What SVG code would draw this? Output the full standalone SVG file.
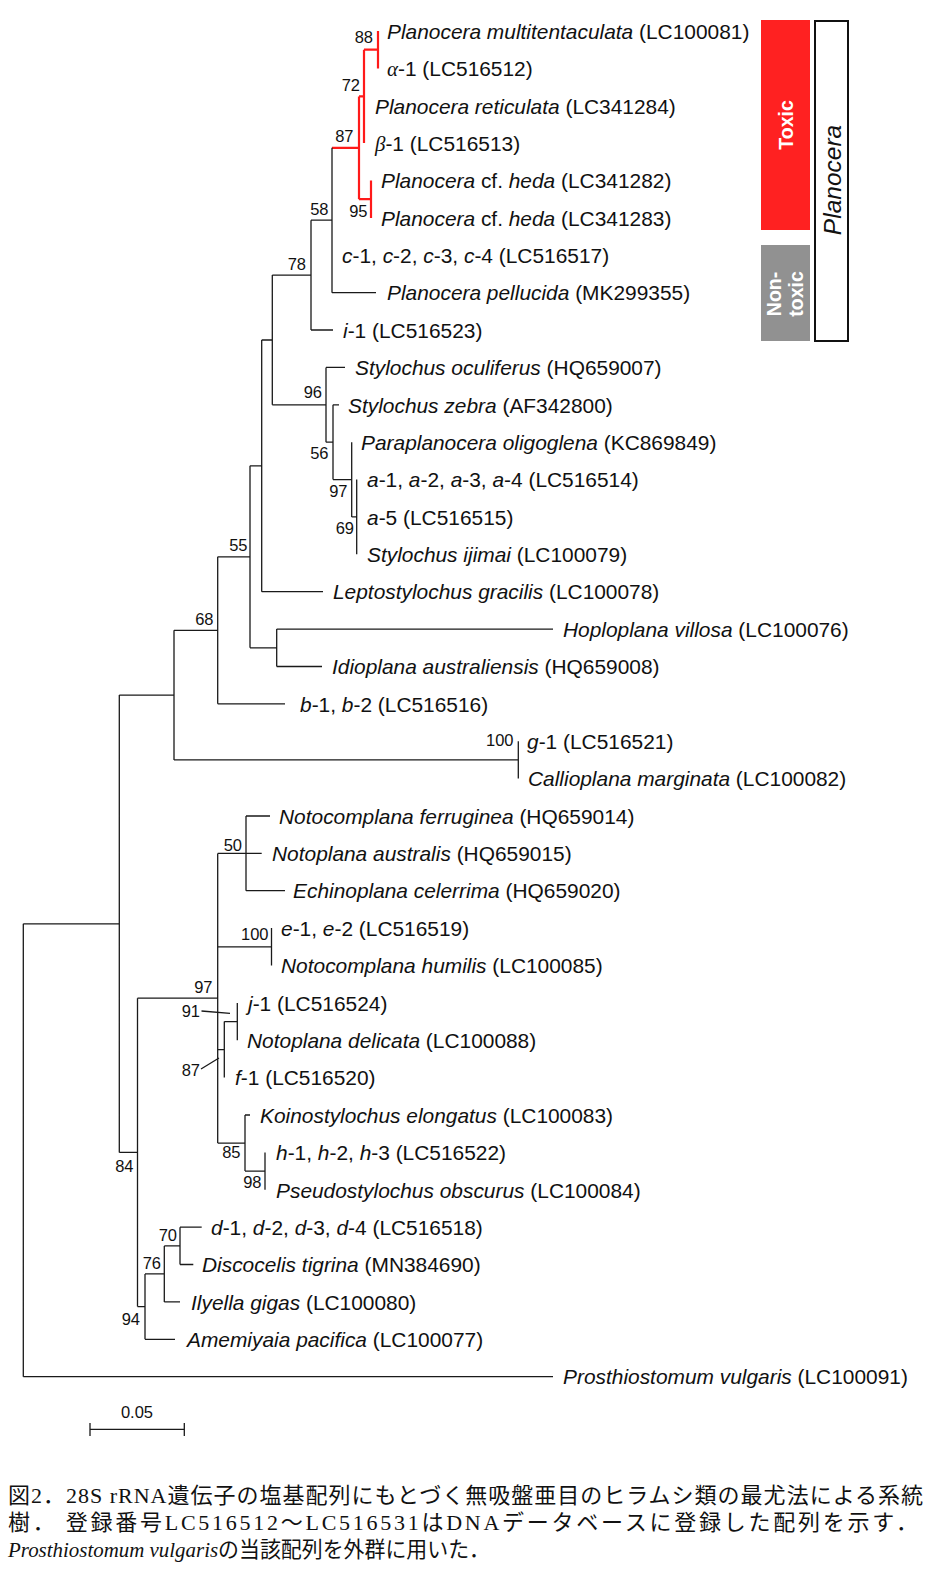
<svg xmlns="http://www.w3.org/2000/svg" width="941" height="1572" viewBox="0 0 941 1572">
<style>
.e{stroke:#1a1a1a;stroke-width:1.3;fill:none}
.r{stroke:#ff1a1a;stroke-width:2.2;fill:none}
.t{font-family:'Liberation Sans',Arial,sans-serif;font-size:20.9px;fill:#111}
.i{font-style:italic}
.g{font-family:'Liberation Serif','Times New Roman',serif;font-style:italic}
.b{font-family:'Liberation Sans',Arial,sans-serif;font-size:16.5px;fill:#111;text-anchor:end}
.w{font-family:'Liberation Sans',Arial,sans-serif;font-weight:bold;font-size:19.5px;fill:#fff;text-anchor:middle}
.cap{font-family:'Liberation Serif','Noto Sans CJK JP',serif;font-size:22px;fill:#111}
</style>
<rect width="941" height="1572" fill="#fff"/>
<g id="connectors">
<path class="r" d="M378,31V68.4M364,49.7H378M364,49.7V143.1M359,96.4H364M371,180.5V217.9M359,199.2H371M359,96.4V199.2M332,147.8H359"/>
<path class="e" d="M332,147.8V292.7M332,292.7H376M311,220.2H332M311,220.2V330M311,330H333M272.3,275.1H311M272.3,275.1V404.8M272.3,404.8H326M326,367.4V442.2M326,367.4H345M326,442.2H333M333,404.8V479.6M333,404.8H339M333,479.6H351.7M351.7,442.2V516.9M351.7,516.9H356.7M356.7,479.6V554.3M261.7,340H272.3M261.7,340V591.7M261.7,591.7H323M250,465.8H261.7M250,465.8V647.8M250,647.8H276.7M276.7,629.1V666.5M276.7,629.1H553M276.7,666.5H322M217.7,556.8H250M217.7,556.8V703.8M217.7,703.8H285M174,630.3H217.7M174,630.3V759.9M174,759.9H518.3M518.3,741.2V778.6M119.3,695.1H174M119.3,695.1V1152.4M119.3,1152.4H137.5M23.3,923.8H119.3M23.3,923.8V1376.7M23.3,1376.7H553M137.5,998.2V1306.6M137.5,998.2H217.7M137.5,1306.6H145M217.7,853.4V1143.1M217.7,853.4H246M217.7,946.8H271.5M217.7,1049.6H224.3M217.7,1143.1H245M246,816V890.7M246,816H270M246,853.4H261.7M246,890.7H285M271.5,928.1V965.5M224.3,1021.6V1077.6M224.3,1021.6H237.3M237.3,1002.9V1040.3M245,1115V1171.1M245,1115H250M245,1171.1H265M265,1152.4V1189.8M145,1273.9V1339.3M145,1339.3H175M145,1273.9H164.3M164.3,1245.9V1301.9M164.3,1301.9H180M164.3,1245.9H180M180,1227.2V1264.5M180,1227.2H201.7M180,1264.5H193.3"/>
<path class="e" stroke-width="1" d="M201.5,1011L230,1013.3M201,1069L219,1058"/>
</g>
<g id="bootstrap">
<text class="b" x="373" y="43">88</text>
<text class="b" x="360" y="90.5">72</text>
<text class="b" x="353.5" y="142">87</text>
<text class="b" x="367.5" y="216.5">95</text>
<text class="b" x="328.5" y="215">58</text>
<text class="b" x="306" y="270">78</text>
<text class="b" x="322" y="398">96</text>
<text class="b" x="328.5" y="459">56</text>
<text class="b" x="347.5" y="497">97</text>
<text class="b" x="354" y="534">69</text>
<text class="b" x="247.5" y="550.5">55</text>
<text class="b" x="213.5" y="625">68</text>
<text class="b" x="513.5" y="746">100</text>
<text class="b" x="242" y="850.5">50</text>
<text class="b" x="268.5" y="940">100</text>
<text class="b" x="212.5" y="993">97</text>
<text class="b" x="200" y="1017">91</text>
<text class="b" x="200" y="1076">87</text>
<text class="b" x="240.5" y="1158">85</text>
<text class="b" x="261.5" y="1188">98</text>
<text class="b" x="133.5" y="1171.5">84</text>
<text class="b" x="177" y="1240.5">70</text>
<text class="b" x="161" y="1269">76</text>
<text class="b" x="140" y="1325">94</text>
</g>
<g id="n1"><text class="t" x="387" y="38.7"><tspan class="i">Planocera multitentaculata</tspan> (LC100081)</text></g>
<g id="n2"><text class="t" x="387" y="76.1"><tspan class="g">α</tspan>-1 (LC516512)</text></g>
<g id="n3"><text class="t" x="375" y="113.5"><tspan class="i">Planocera reticulata</tspan> (LC341284)</text></g>
<g id="n4"><text class="t" x="375" y="150.8"><tspan class="g">β</tspan>-1 (LC516513)</text></g>
<g id="n5"><text class="t" x="381" y="188.2"><tspan class="i">Planocera</tspan> cf. <tspan class="i">heda</tspan> (LC341282)</text></g>
<g id="n6"><text class="t" x="381" y="225.6"><tspan class="i">Planocera</tspan> cf. <tspan class="i">heda</tspan> (LC341283)</text></g>
<g id="n7"><text class="t" x="342" y="263"><tspan class="i">c</tspan>-1, <tspan class="i">c</tspan>-2, <tspan class="i">c</tspan>-3, <tspan class="i">c</tspan>-4 (LC516517)</text></g>
<g id="n8"><text class="t" x="387" y="300.4"><tspan class="i">Planocera pellucida</tspan> (MK299355)</text></g>
<g id="n9"><text class="t" x="343" y="337.7"><tspan class="i">i</tspan>-1 (LC516523)</text></g>
<g id="n10"><text class="t" x="355" y="375.1"><tspan class="i">Stylochus oculiferus</tspan> (HQ659007)</text></g>
<g id="n11"><text class="t" x="348" y="412.5"><tspan class="i">Stylochus zebra</tspan> (AF342800)</text></g>
<g id="n12"><text class="t" x="361" y="449.9"><tspan class="i">Paraplanocera oligoglena</tspan> (KC869849)</text></g>
<g id="n13"><text class="t" x="367" y="487.3"><tspan class="i">a</tspan>-1, <tspan class="i">a</tspan>-2, <tspan class="i">a</tspan>-3, <tspan class="i">a</tspan>-4 (LC516514)</text></g>
<g id="n14"><text class="t" x="367" y="524.6"><tspan class="i">a</tspan>-5 (LC516515)</text></g>
<g id="n15"><text class="t" x="367" y="562"><tspan class="i">Stylochus ijimai</tspan> (LC100079)</text></g>
<g id="n16"><text class="t" x="333" y="599.4"><tspan class="i">Leptostylochus gracilis</tspan> (LC100078)</text></g>
<g id="n17"><text class="t" x="563" y="636.8"><tspan class="i">Hoploplana villosa</tspan> (LC100076)</text></g>
<g id="n18"><text class="t" x="332" y="674.2"><tspan class="i">Idioplana australiensis</tspan> (HQ659008)</text></g>
<g id="n19"><text class="t" x="300" y="711.5"><tspan class="i">b</tspan>-1, <tspan class="i">b</tspan>-2 (LC516516)</text></g>
<g id="n20"><text class="t" x="527" y="748.9"><tspan class="i">g</tspan>-1 (LC516521)</text></g>
<g id="n21"><text class="t" x="528" y="786.3"><tspan class="i">Callioplana marginata</tspan> (LC100082)</text></g>
<g id="n22"><text class="t" x="279" y="823.7"><tspan class="i">Notocomplana ferruginea</tspan> (HQ659014)</text></g>
<g id="n23"><text class="t" x="272" y="861.1"><tspan class="i">Notoplana australis</tspan> (HQ659015)</text></g>
<g id="n24"><text class="t" x="293" y="898.4"><tspan class="i">Echinoplana celerrima</tspan> (HQ659020)</text></g>
<g id="n25"><text class="t" x="281" y="935.8"><tspan class="i">e</tspan>-1, <tspan class="i">e</tspan>-2 (LC516519)</text></g>
<g id="n26"><text class="t" x="281" y="973.2"><tspan class="i">Notocomplana humilis</tspan> (LC100085)</text></g>
<g id="n27"><text class="t" x="248" y="1010.6"><tspan class="i">j</tspan>-1 (LC516524)</text></g>
<g id="n28"><text class="t" x="247" y="1048"><tspan class="i">Notoplana delicata</tspan> (LC100088)</text></g>
<g id="n29"><text class="t" x="235" y="1085.3"><tspan class="i">f</tspan>-1 (LC516520)</text></g>
<g id="n30"><text class="t" x="260" y="1122.7"><tspan class="i">Koinostylochus elongatus</tspan> (LC100083)</text></g>
<g id="n31"><text class="t" x="276" y="1160.1"><tspan class="i">h</tspan>-1, <tspan class="i">h</tspan>-2, <tspan class="i">h</tspan>-3 (LC516522)</text></g>
<g id="n32"><text class="t" x="276" y="1197.5"><tspan class="i">Pseudostylochus obscurus</tspan> (LC100084)</text></g>
<g id="n33"><text class="t" x="211" y="1234.9"><tspan class="i">d</tspan>-1, <tspan class="i">d</tspan>-2, <tspan class="i">d</tspan>-3, <tspan class="i">d</tspan>-4 (LC516518)</text></g>
<g id="n34"><text class="t" x="202" y="1272.2"><tspan class="i">Discocelis tigrina</tspan> (MN384690)</text></g>
<g id="n35"><text class="t" x="191" y="1309.6"><tspan class="i">Ilyella gigas</tspan> (LC100080)</text></g>
<g id="n36"><text class="t" x="187" y="1347"><tspan class="i">Amemiyaia pacifica</tspan> (LC100077)</text></g>
<g id="n37"><text class="t" x="563" y="1384.4"><tspan class="i">Prosthiostomum vulgaris</tspan> (LC100091)</text></g>
<g id="legend-toxic"><rect x="761" y="20" width="49" height="210" fill="#ff2121"/><text class="w" transform="translate(793,125) rotate(-90)">Toxic</text></g>
<g id="legend-nontoxic"><rect x="761" y="245" width="49" height="96" fill="#919191"/><text class="w" transform="translate(781,294) rotate(-90)">Non-</text><text class="w" transform="translate(803,294) rotate(-90)">toxic</text></g>
<g id="legend-planocera"><rect x="815" y="21" width="33" height="320" fill="#fff" stroke="#111" stroke-width="2"/><text class="t i" style="font-size:24.5px" text-anchor="middle" transform="translate(841,180) rotate(-90)">Planocera</text></g>
<g id="scalebar"><path class="e" d="M90,1429.3H184.3M90,1423V1436M184.3,1423V1436"/><text class="b" style="text-anchor:middle" x="137" y="1418">0.05</text></g>
<g id="caption">
<text class="cap" x="8" y="1503" textLength="915" lengthAdjust="spacing">図2．28S rRNA遺伝子の塩基配列にもとづく無吸盤亜目のヒラムシ類の最尤法による系統</text>
<text class="cap" x="8" y="1530" textLength="910" lengthAdjust="spacing">樹． 登録番号LC516512～LC516531はDNAデータベースに登録した配列を示す．</text>
<text class="cap" x="8" y="1557" textLength="482" lengthAdjust="spacingAndGlyphs"><tspan class="i">Prosthiostomum vulgaris</tspan>の当該配列を外群に用いた．</text>
</g>
</svg>
